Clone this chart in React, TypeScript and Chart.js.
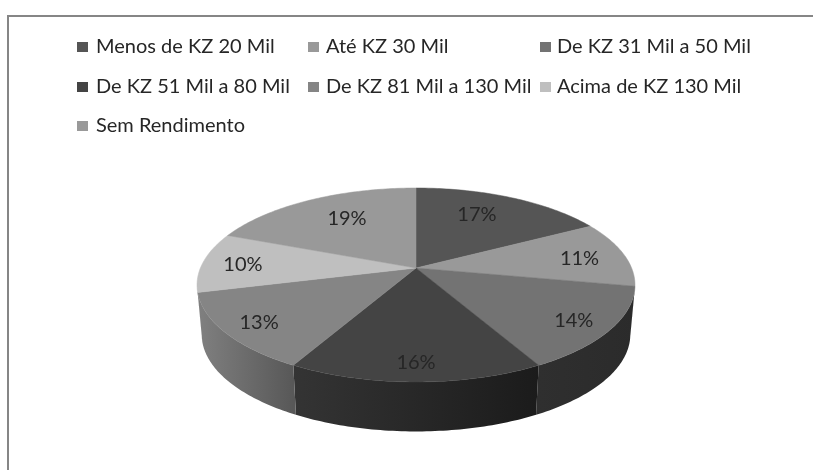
import React, { useEffect, useRef } from "react";
import { Chart, registerables } from "chart.js";

Chart.register(...registerables);

const categories = [
  "Menos de KZ 20 Mil",
  "Até KZ 30 Mil",
  "De KZ 31 Mil a 50 Mil",
  "De KZ 51 Mil a 80 Mil",
  "De KZ 81 Mil a 130 Mil",
  "Acima de KZ 130 Mil",
  "Sem Rendimento",
];
const shares = [17, 11, 14, 16, 13, 10, 19];
const sliceColors = ["#555555", "#999999", "#737373", "#444444", "#858585", "#bfbfbf", "#999999"];
const wallColorsLeft = ["#3a3a3a", "#666666", "#2f2f2f", "#343434", "#808080", "#8a8a8a", "#666666"];
const wallColorsRight = ["#3a3a3a", "#666666", "#2b2b2b", "#1b1b1b", "#585858", "#8a8a8a", "#666666"];

// layout constants
const W = 813;
const H = 470;
const PERSPECTIVE = 0.175;
const TOP_FACE = { cx: 416, a: 268, b: 47.1, A: 215.6, dy: 0 };
const BOTTOM_FACE = { cx: 416, a: 268, b: 47.1, A: 211, dy: 49.5 };
const LABEL_RADIUS = 0.75;
const labelNudges = [
  [-13, 1.5],
  [7, 1],
  [16, 8],
  [0, 13],
  [-18, 8],
  [-13, 1],
  [13, 3],
];
const legendColumns = [
  { box: 77, text: 96 },
  { box: 308, text: 326 },
  { box: 540, text: 557 },
];
const legendRows = [47, 87, 126];
const LEGEND_FONT = '20px Lato, "Noto Sans", sans-serif';
const LABEL_FONT = '20px Lato, "Noto Sans", sans-serif';
const TEXT = "#262626";

type Face = typeof TOP_FACE;
function project(face: Face, theta: number, r = 1) {
  const u = r * Math.sin(theta);
  const v = -r * Math.cos(theta);
  const d = 1 - PERSPECTIVE * v;
  return { x: face.cx + (face.A * u) / d, y: (face.a + face.b * v) / d + face.dy };
}
function traceRim(ctx: CanvasRenderingContext2D, face: Face, from: number, to: number) {
  const steps = Math.max(8, Math.ceil(Math.abs(to - from) * 60));
  for (let i = 0; i <= steps; i++) {
    const p = project(face, from + ((to - from) * i) / steps);
    ctx.lineTo(p.x, p.y);
  }
}

const pie3d = {
  id: "pie3d",
  beforeDraw(chart: any) {
    const ctx: CanvasRenderingContext2D = chart.ctx;
    ctx.save();
    ctx.fillStyle = "#ffffff";
    ctx.fillRect(0, 0, W, H);
    ctx.fillStyle = "#868686";
    ctx.fillRect(7, 15, W - 7, 2);
    ctx.fillRect(7, 15, 2, H - 15);
    ctx.restore();
  },
  beforeDatasetsDraw(chart: any) {
    const ctx: CanvasRenderingContext2D = chart.ctx;
    const arcs = chart.getDatasetMeta(0).data;
    const angles = arcs.map((arc: any) => ({
      s: arc.startAngle + Math.PI / 2,
      e: arc.endAngle + Math.PI / 2,
    }));
    const frontFrom = Math.PI / 2 + Math.asin(PERSPECTIVE);
    const frontTo = (3 * Math.PI) / 2 - Math.asin(PERSPECTIVE);

    ctx.save();
    // side walls of the front half
    angles.forEach((a: any, i: number) => {
      const s = Math.max(a.s, frontFrom);
      const e = Math.min(a.e, frontTo);
      if (e <= s) return;
      const pts = [project(TOP_FACE, s), project(TOP_FACE, e)];
      const x0 = Math.min(pts[0].x, pts[1].x);
      const x1 = Math.max(pts[0].x, pts[1].x);
      const g = ctx.createLinearGradient(x0, 0, x1, 0);
      g.addColorStop(0, wallColorsLeft[i]);
      g.addColorStop(1, wallColorsRight[i]);
      ctx.beginPath();
      const p0 = project(TOP_FACE, s);
      ctx.moveTo(p0.x, p0.y);
      traceRim(ctx, TOP_FACE, s, e);
      traceRim(ctx, BOTTOM_FACE, e, s);
      ctx.closePath();
      ctx.fillStyle = g;
      ctx.fill();
    });
    // top face
    angles.forEach((a: any, i: number) => {
      ctx.beginPath();
      ctx.moveTo(TOP_FACE.cx, TOP_FACE.a);
      traceRim(ctx, TOP_FACE, a.s, a.e);
      ctx.closePath();
      ctx.fillStyle = sliceColors[i];
      ctx.strokeStyle = sliceColors[i];
      ctx.lineWidth = 0.5;
      ctx.fill();
      ctx.stroke();
    });
    // percentage labels
    ctx.fillStyle = TEXT;
    ctx.font = LABEL_FONT;
    ctx.textAlign = "center";
    ctx.textBaseline = "middle";
    angles.forEach((a: any, i: number) => {
      const p = project(TOP_FACE, (a.s + a.e) / 2, LABEL_RADIUS);
      ctx.fillText(`${shares[i]}%`, p.x + labelNudges[i][0], p.y + labelNudges[i][1]);
    });
    // legend: three aligned columns
    ctx.font = LEGEND_FONT;
    ctx.textAlign = "left";
    categories.forEach((name, i) => {
      const col = legendColumns[i % 3];
      const y = legendRows[Math.floor(i / 3)];
      ctx.fillStyle = sliceColors[i];
      ctx.fillRect(col.box, y - 5, 11, 10);
      ctx.fillStyle = TEXT;
      ctx.fillText(name, col.text, y);
    });
    ctx.restore();
    return false;
  },
};

export default function App() {
  const ref = useRef<HTMLCanvasElement>(null);
  useEffect(() => {
    const chart = new Chart(ref.current!, {
      type: "pie",
      data: {
        labels: categories,
        datasets: [{ data: shares, backgroundColor: sliceColors, borderWidth: 0 }],
      },
      options: {
        animation: false,
        responsive: false,
        devicePixelRatio: 1,
        plugins: { legend: { display: false }, tooltip: { enabled: false } },
      },
      plugins: [pie3d],
    } as any);
    return () => chart.destroy();
  }, []);
  return (
    <div style={{ position: "absolute", left: 0, top: 0, width: W, height: H, overflow: "hidden" }}>
      <canvas ref={ref} width={W} height={H} style={{ display: "block", filter: "blur(0.4px)" }} />
    </div>
  );
}
